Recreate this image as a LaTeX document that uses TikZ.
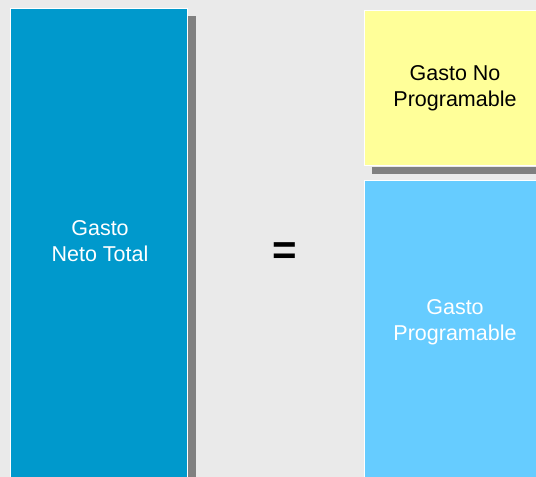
\documentclass[tikz,border=0pt]{standalone}
\usepackage{fontspec}
\setmainfont{Liberation Sans}
\definecolor{bgcol}{HTML}{EAEAEA}
\definecolor{netoblue}{HTML}{0099CC}
\definecolor{noprogyellow}{HTML}{FFFF99}
\definecolor{progblue}{HTML}{66CCFF}
\definecolor{shadowgray}{HTML}{808080}
\begin{document}
\begin{tikzpicture}[x=1pt,y=-1pt,
  panel/.style={fill=#1,draw=white,line width=1pt},
  shade/.style={fill=shadowgray,draw=none},
  boxtext/.style={align=center,inner sep=0pt,font=\fontsize{21.5}{26}\selectfont,text=#1}]
  % canvas
  \fill[bgcol] (0,0) rectangle (536,477);
  \useasboundingbox (0,0) rectangle (536,477);
  % total net spending column with its drop shadow
  \path[shade] (188,15.5) rectangle (196,480);
  \path[panel=netoblue] (10.5,8.5) rectangle (187.5,480);
  % non-programmable spending block with its shadow
  \path[shade] (372,166.5) rectangle (540,174);
  \path[panel=noprogyellow] (364.5,10.5) rectangle (540,165.5);
  % programmable spending block
  \path[panel=progblue] (364.5,180.5) rectangle (540,480);
  % labels
  \node[boxtext=white] (neto) at (100,241.5) {Gasto\\Neto Total};
  \node[font=\fontsize{42}{50}\selectfont\bfseries,inner sep=0pt] (eq) at (284.5,254) {=};
  \node[boxtext=black] (noprog) at (455,88) {Gasto No\\Programable};
  \node[boxtext=white] (prog) at (455,322) {Gasto\\Programable};
\end{tikzpicture}
\end{document}
